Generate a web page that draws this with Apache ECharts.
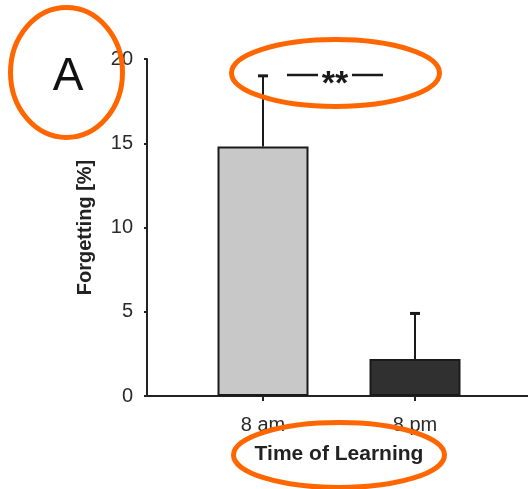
<!DOCTYPE html>
<html>
<head>
<meta charset="utf-8">
<script src="https://cdn.jsdelivr.net/npm/echarts@6/dist/echarts.min.js"></script>
<style>
html,body{margin:0;padding:0;background:#fff;}
#chart{width:528px;height:489px;}
</style>
</head>
<body>
<div id="chart"></div>
<script>
var categories = ['8 am', '8 pm'];
var means = [14.8, 2.2];
var errorTops = [19.0, 4.9];
var barColors = ['#c8c8c8', '#303030'];
var yTicks = [0, 5, 10, 15, 20];

var FONT = '"Liberation Sans", Arial, sans-serif';
var TXT = '#222';

var chart = echarts.init(document.getElementById('chart'), null, {renderer: 'canvas'});

var option = {
  animation: false,
  backgroundColor: '#fff',
  grid: [
    {left: 147, right: 0, top: 59, bottom: 93},
    {left: 187, width: 304, top: 59, bottom: 93}
  ],
  xAxis: [
    {
      gridIndex: 0, type: 'value', min: 0, max: 1,
      axisLine: {show: true, lineStyle: {color: TXT, width: 2}},
      axisTick: {show: false}, axisLabel: {show: false}, splitLine: {show: false}
    },
    {
      gridIndex: 1, type: 'category', data: categories,
      axisLine: {show: false},
      axisTick: {show: true, alignWithLabel: true, length: 5, lineStyle: {color: TXT, width: 2}},
      axisLabel: {color: '#2a2a2a', fontSize: 20, fontFamily: FONT, margin: 19},
      name: 'Time of Learning', nameLocation: 'middle', nameGap: 48,
      nameTextStyle: {color: TXT, fontSize: 21, fontWeight: 'bold', fontFamily: FONT}
    }
  ],
  yAxis: [
    {
      gridIndex: 0, type: 'value', min: yTicks[0], max: yTicks[yTicks.length - 1], interval: 5,
      axisLine: {show: true, lineStyle: {color: TXT, width: 2}},
      axisTick: {show: true, length: 3, lineStyle: {color: TXT, width: 2}},
      axisLabel: {color: '#2a2a2a', fontSize: 20, fontFamily: FONT, margin: 14},
      splitLine: {show: false},
      name: 'Forgetting [%]', nameLocation: 'middle', nameGap: 52,
      nameTextStyle: {color: TXT, fontSize: 20, fontWeight: 'bold', fontFamily: FONT}
    },
    {
      gridIndex: 1, type: 'value', min: yTicks[0], max: yTicks[yTicks.length - 1], interval: 5,
      show: false
    }
  ],
  series: [
    {
      type: 'bar', xAxisIndex: 1, yAxisIndex: 1,
      barWidth: 91,
      data: means.map(function (v, i) {
        return {value: v, itemStyle: {color: barColors[i]}};
      }),
      itemStyle: {borderColor: '#1a1a1a', borderWidth: 2},
      z: 2
    },
    {
      type: 'custom', xAxisIndex: 1, yAxisIndex: 1,
      data: categories.map(function (c, i) { return [i, means[i], errorTops[i]]; }),
      renderItem: function (params, api) {
        var base = api.coord([api.value(0), api.value(1)]);
        var top = api.coord([api.value(0), api.value(2)]);
        var cap = 5;
        return {
          type: 'group',
          children: [
            {type: 'line', shape: {x1: base[0], y1: base[1], x2: top[0], y2: top[1]},
             style: {stroke: '#1a1a1a', lineWidth: 2}},
            {type: 'line', shape: {x1: top[0] - cap, y1: top[1], x2: top[0] + cap, y2: top[1]},
             style: {stroke: '#1a1a1a', lineWidth: 3}}
          ]
        };
      },
      z: 3
    }
  ],
  graphic: [
    {type: 'text', x: 68, y: 77,
     style: {text: 'A', font: '46px ' + FONT, fill: '#111', align: 'center', verticalAlign: 'middle'}},
    {type: 'line', shape: {x1: 287, y1: 75, x2: 318, y2: 75}, style: {stroke: '#1a1a1a', lineWidth: 2.5}},
    {type: 'line', shape: {x1: 352, y1: 75, x2: 383, y2: 75}, style: {stroke: '#1a1a1a', lineWidth: 2.5}},
    {type: 'text', x: 335, y: 85,
     style: {text: '**', font: 'bold 34px ' + FONT, fill: '#1a1a1a', align: 'center', verticalAlign: 'middle'}},
    {type: 'ellipse', shape: {cx: 66.5, cy: 72.5, rx: 56, ry: 65}, z: 100,
     style: {fill: 'none', stroke: '#FF6600', lineWidth: 5}},
    {type: 'ellipse', shape: {cx: 335.5, cy: 73, rx: 104, ry: 33.5}, z: 100,
     style: {fill: 'none', stroke: '#FF6600', lineWidth: 5}},
    {type: 'ellipse', shape: {cx: 339, cy: 455, rx: 105.5, ry: 32.5}, z: 100,
     style: {fill: 'none', stroke: '#FF6600', lineWidth: 5}}
  ]
};
chart.setOption(option);
</script>
</body>
</html>
